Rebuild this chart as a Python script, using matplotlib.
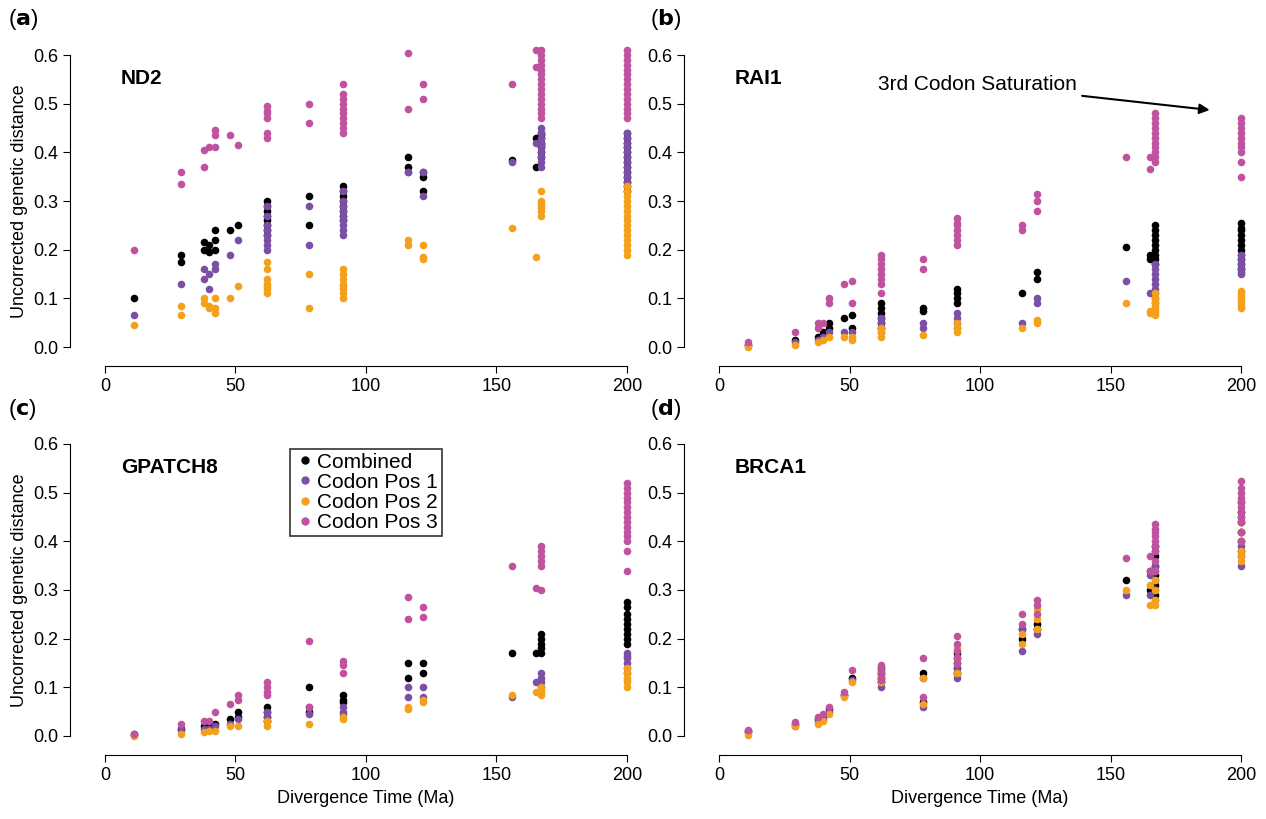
import matplotlib
matplotlib.use("Agg")
import matplotlib.pyplot as plt
from matplotlib.lines import Line2D

genes = ["ND2", "RAI1", "GPATCH8", "BRCA1"]
panel_labels = ["a", "b", "c", "d"]
series_names = ["Combined", "Codon Pos 1", "Codon Pos 2", "Codon Pos 3"]
colors = ["#000000", "#7b4fa6", "#f5a01a", "#c0529f"]
xticks = [0, 50, 100, 150, 200]
yticks = [0.0, 0.1, 0.2, 0.3, 0.4, 0.5, 0.6]

nd2_comb = {11:[0.10],29:[0.19,0.175],38:[0.20,0.215],40:[0.21,0.195],42:[0.24,0.22,0.20],48:[0.24],51:[0.25],62:[0.30,0.29,0.28,0.27,0.26,0.25,0.24,0.23],78:[0.31,0.25],91:[0.33,0.32,0.31,0.30,0.29,0.28,0.27,0.26],116:[0.39,0.37],122:[0.36,0.35,0.32],156:[0.385],165:[0.43,0.37],167:[0.44,0.435,0.43,0.42,0.415,0.41,0.40,0.39],200:[0.44,0.43,0.42,0.41,0.40,0.39,0.38,0.37,0.36,0.35,0.34,0.33,0.32]}
nd2_p1 = {11:[0.065],29:[0.13],38:[0.16,0.14],40:[0.15,0.12],42:[0.17,0.16],48:[0.19],51:[0.22],62:[0.29,0.27,0.25,0.24,0.23,0.22,0.21,0.20],78:[0.29,0.21],91:[0.32,0.30,0.29,0.28,0.27,0.26,0.25,0.24,0.23],116:[0.36,0.36],122:[0.36,0.31],156:[0.38],165:[0.42],167:[0.45,0.44,0.43,0.42,0.41,0.40,0.39,0.38,0.37],200:[0.44,0.43,0.42,0.41,0.40,0.39,0.38,0.37,0.36,0.35,0.34]}
nd2_p2 = {11:[0.045],29:[0.085,0.065],38:[0.10,0.09],40:[0.085,0.08],42:[0.10,0.08,0.07],48:[0.10],51:[0.125],62:[0.175,0.16,0.14,0.13,0.125,0.12,0.11],78:[0.15,0.08],91:[0.16,0.15,0.14,0.13,0.125,0.12,0.11,0.10],116:[0.22,0.21],122:[0.21,0.185,0.18],156:[0.245],165:[0.185],167:[0.32,0.30,0.295,0.29,0.285,0.28,0.27],200:[0.33,0.32,0.31,0.30,0.29,0.28,0.27,0.26,0.25,0.24,0.23,0.22,0.21,0.20,0.19]}
nd2_p3 = {11:[0.20],29:[0.36,0.335],38:[0.405,0.37],40:[0.41],42:[0.445,0.435,0.41],48:[0.435],51:[0.415],62:[0.495,0.485,0.48,0.47,0.44,0.43],78:[0.50,0.46],91:[0.54,0.52,0.51,0.50,0.49,0.48,0.47,0.46,0.45,0.44],116:[0.605,0.49],122:[0.54,0.51],156:[0.54],165:[0.61,0.575],167:[0.61,0.60,0.59,0.58,0.57,0.56,0.55,0.54,0.53,0.52,0.51,0.50,0.49,0.48,0.47],200:[0.61,0.60,0.59,0.58,0.57,0.56,0.55,0.54,0.53,0.52,0.51,0.50,0.49,0.48,0.47]}

rai1_comb = {11:[0.005],29:[0.015],38:[0.02],40:[0.03],42:[0.05,0.04],48:[0.06],51:[0.065,0.04],62:[0.09,0.08,0.07,0.06,0.05,0.04],78:[0.08,0.075],91:[0.12,0.11,0.10,0.09],116:[0.11],122:[0.155,0.14],156:[0.205],165:[0.19,0.18],167:[0.25,0.24,0.23,0.22,0.21,0.20,0.19,0.18,0.17],200:[0.255,0.245,0.24,0.23,0.22,0.21,0.20,0.19,0.18,0.17,0.16]}
rai1_p1 = {11:[0.005],29:[0.01],38:[0.015],40:[0.02],42:[0.03],48:[0.03],51:[0.03],62:[0.06,0.05,0.04,0.03],78:[0.05,0.04],91:[0.07,0.06,0.05,0.04],116:[0.05],122:[0.10,0.09],156:[0.135],165:[0.11],167:[0.17,0.16,0.15,0.14,0.13,0.12,0.11,0.10,0.09],200:[0.19,0.18,0.17,0.165,0.16,0.155,0.15]}
rai1_p2 = {11:[0.0],29:[0.005],38:[0.01],40:[0.015],42:[0.02],48:[0.02],51:[0.02,0.015],62:[0.04,0.03,0.02],78:[0.025],91:[0.05,0.04,0.03],116:[0.04],122:[0.055,0.05],156:[0.09],165:[0.075,0.07],167:[0.11,0.10,0.095,0.09,0.085,0.08,0.075,0.07,0.065],200:[0.115,0.11,0.105,0.10,0.095,0.09,0.085,0.08]}
rai1_p3 = {11:[0.01],29:[0.03],38:[0.05,0.04],40:[0.05],42:[0.10,0.09],48:[0.13],51:[0.135,0.09],62:[0.19,0.18,0.17,0.16,0.15,0.14,0.13,0.11],78:[0.18,0.16],91:[0.265,0.255,0.25,0.24,0.23,0.22,0.21],116:[0.25,0.24],122:[0.315,0.30,0.28],156:[0.39],165:[0.39,0.365],167:[0.48,0.47,0.46,0.45,0.44,0.43,0.42,0.41,0.40,0.39,0.38],200:[0.47,0.46,0.45,0.44,0.43,0.42,0.41,0.40,0.38,0.35]}

gp_comb = {11:[0.005],29:[0.015],38:[0.02],40:[0.02],42:[0.025],48:[0.035],51:[0.05,0.04],62:[0.06,0.05,0.04,0.03],78:[0.10,0.05],91:[0.085,0.075,0.07],116:[0.15,0.12],122:[0.15,0.13],156:[0.17],165:[0.17],167:[0.21,0.20,0.19,0.18,0.17],200:[0.275,0.265,0.25,0.24,0.23,0.22,0.21,0.20,0.19]}
gp_p1 = {11:[0.003],29:[0.012],38:[0.015],40:[0.015],42:[0.02],48:[0.025],51:[0.035],62:[0.05,0.04,0.03],78:[0.06,0.045],91:[0.06,0.05,0.045],116:[0.10,0.08],122:[0.10,0.08],156:[0.08],165:[0.11],167:[0.13,0.12,0.11,0.10],200:[0.17,0.165,0.16,0.15,0.14,0.13]}
gp_p2 = {11:[0.0],29:[0.005],38:[0.008],40:[0.01],42:[0.01],48:[0.02],51:[0.02],62:[0.03,0.02],78:[0.025],91:[0.04,0.035],116:[0.06,0.055],122:[0.075,0.07],156:[0.085],165:[0.09],167:[0.10,0.095,0.09,0.085],200:[0.14,0.13,0.12,0.115,0.11,0.10]}
gp_p3 = {11:[0.005],29:[0.025],38:[0.03],40:[0.03],42:[0.05],48:[0.065],51:[0.085,0.075],62:[0.11,0.10,0.09,0.085],78:[0.195,0.06],91:[0.155,0.145,0.13],116:[0.285,0.24],122:[0.265,0.245],156:[0.35],165:[0.305],167:[0.39,0.38,0.37,0.36,0.35,0.30],200:[0.52,0.51,0.50,0.49,0.48,0.47,0.46,0.45,0.44,0.43,0.42,0.41,0.40,0.38,0.34]}

br_comb = {11:[0.01],29:[0.025],38:[0.035],40:[0.04],42:[0.055],48:[0.085],51:[0.12],62:[0.14,0.13,0.12,0.11],78:[0.13,0.07],91:[0.17,0.15,0.14,0.13],116:[0.22,0.20],122:[0.23,0.22],156:[0.32],165:[0.34,0.30],167:[0.39,0.37,0.35,0.33,0.31,0.29],200:[0.48,0.46,0.44,0.42,0.40,0.38]}
br_p1 = {11:[0.008],29:[0.02],38:[0.03],40:[0.035],42:[0.05],48:[0.085],51:[0.115],62:[0.13,0.12,0.11,0.10],78:[0.12,0.06],91:[0.16,0.14,0.13,0.12],116:[0.22,0.175],122:[0.22,0.21],156:[0.29],165:[0.33,0.29],167:[0.38,0.35,0.32,0.30,0.28],200:[0.45,0.42,0.39,0.37,0.35]}
br_p2 = {11:[0.003],29:[0.02],38:[0.025],40:[0.03],42:[0.045],48:[0.08],51:[0.11],62:[0.135,0.12,0.11],78:[0.12,0.065],91:[0.18,0.16,0.15,0.13],116:[0.21,0.19],122:[0.26,0.24,0.22],156:[0.30],165:[0.31,0.27],167:[0.34,0.32,0.30,0.28,0.27],200:[0.44,0.42,0.40,0.38,0.37,0.36]}
br_p3 = {11:[0.013],29:[0.028],38:[0.04],40:[0.045],42:[0.06],48:[0.09],51:[0.135],62:[0.145,0.135,0.125,0.115],78:[0.16,0.08],91:[0.205,0.19,0.175,0.16,0.15],116:[0.25,0.23],122:[0.28,0.27,0.25],156:[0.365],165:[0.37,0.34],167:[0.435,0.425,0.42,0.41,0.40,0.39,0.38,0.36,0.34],200:[0.525,0.51,0.50,0.49,0.48,0.47,0.46,0.45,0.44,0.42,0.40]}

data = [[nd2_comb, nd2_p1, nd2_p2, nd2_p3],
        [rai1_comb, rai1_p1, rai1_p2, rai1_p3],
        [gp_comb, gp_p1, gp_p2, gp_p3],
        [br_comb, br_p1, br_p2, br_p3]]

plt.rcParams['font.family'] = ['Liberation Sans', 'DejaVu Sans']
fig = plt.figure(figsize=(12.66, 8.19), dpi=100)
W, H = 1266, 819
lefts = [105, 719, 105, 719]
tops = [55, 55, 444, 444]
for i in range(4):
    l, t = lefts[i], tops[i]
    ax = fig.add_axes([l / W, 1 - (t + 292) / H, 522 / W, 292 / H])
    for s in range(4):
        xs, ys = [], []
        for k, vals in data[i][s].items():
            xs += [k] * len(vals)
            ys += vals
        ax.scatter(xs, ys, s=30, color=colors[s], linewidths=0, zorder=2 + s, clip_on=False)
    ax.set_xlim(0, 200)
    ax.set_ylim(0, 0.6)
    ax.set_xticks(xticks)
    ax.set_yticks(yticks)
    ax.set_yticklabels([f"{v:.1f}" for v in yticks])
    for sp in ["top", "right"]:
        ax.spines[sp].set_visible(False)
    ax.spines["left"].set_position(("outward", 25))
    ax.spines["bottom"].set_position(("outward", 14))
    ax.tick_params(direction="out", labelsize=13, length=5)
    ax.patch.set_alpha(0)
    ax.text(0.03, 0.92, genes[i], transform=ax.transAxes, fontsize=15, fontweight="bold", va="center")
    if i in (0, 2):
        ax.set_ylabel("Uncorrected genetic distance", fontsize=13)
    if i in (2, 3):
        ax.set_xlabel("Divergence Time (Ma)", fontsize=13)
    lx = 8 if i in (0, 2) else 650
    ly = 20 if i < 2 else 410
    fig.text(lx / W, 1 - ly / H, "(" + r"$\bf{" + panel_labels[i] + "}$" + ")", fontsize=16, va="center")
    if i == 1:
        ax.annotate("3rd Codon Saturation", xy=(188, 0.487), xytext=(137, 0.54),
                    ha="right", va="center", fontsize=15,
                    arrowprops=dict(arrowstyle="-|>", color="black", lw=1.5, shrinkA=2, shrinkB=0))
    if i == 2:
        handles = [Line2D([], [], marker="o", ls="", color=c, markersize=5) for c in colors]
        leg = ax.legend(handles, series_names, loc="upper left", bbox_to_anchor=(0.335, 1.02),
                        fontsize=15, frameon=True, fancybox=False, handletextpad=0.1,
                        borderpad=0.2, labelspacing=0.05, handlelength=1.0)
        leg.get_frame().set_edgecolor("black")
        leg.get_frame().set_linewidth(1.2)

fig.savefig("out.png", dpi=100)
